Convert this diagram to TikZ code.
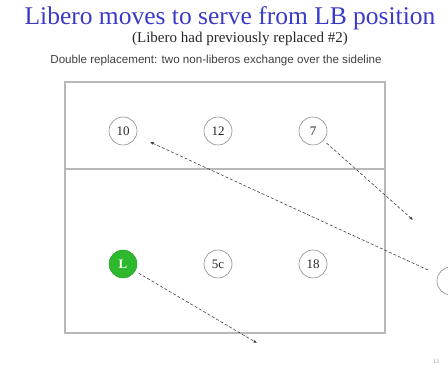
\documentclass[tikz,border=0pt]{standalone}
\usepackage{fontspec}
\setmainfont{Liberation Serif}
\newfontfamily\arialf{Liberation Sans}
\usetikzlibrary{arrows.meta}
\definecolor{titleblue}{HTML}{3A3AC8}
\definecolor{courtgray}{HTML}{B8B8B8}
\definecolor{ringgray}{HTML}{8C8C8C}
\definecolor{libgreen}{HTML}{2EB82E}
\begin{document}
\begin{tikzpicture}[x=1pt,y=-1pt,
  player/.style={circle,draw=ringgray,line width=0.6pt,minimum size=28pt,inner sep=0pt,font=\fontsize{13}{13}\selectfont,text=black!85},
  libero/.style={circle,fill=libgreen,draw=libgreen!80!black,line width=0.4pt,minimum size=28pt,inner sep=0pt,font=\fontsize{13}{13}\selectfont\bfseries,text=white},
  move/.style={densely dashed,line width=0.6pt,draw=black!75,-{Latex[length=3.5pt,width=3pt]}},
  court/.style={draw=courtgray,line width=1.1pt}]
\useasboundingbox (0,0) rectangle (448,371);
\clip (0,0) rectangle (448,371);
% titles
\node[text=titleblue,font=\fontsize{25.5}{25.5}\selectfont] (title) at (230,18) {Libero moves to serve from LB position};
\node[text=black!85,font=\fontsize{15}{15}\selectfont] (sub) at (240,39) {(Libero had previously replaced \#2)};
\node[text=black!75,font=\arialf\fontsize{11.6}{11.6}\selectfont] (expl) at (216,61) {Double replacement: two non-liberos exchange over the sideline};
% court
\draw[court] (65,82) rectangle (385,333);
\draw[court] (65,169) -- (385,169);
% players
\node[player] (p10) at (123,131) {10};
\node[player] (p12) at (218,131) {12};
\node[player] (p7) at (313,131) {7};
\node[libero] (pL) at (123,264) {L};
\node[player] (p5c) at (218,264) {5c};
\node[player] (p18) at (313,264) {18};
\node[player] (p2) at (451,281) {2};
% endpoints
\coordinate (t10) at (150,142);
\coordinate (t7) at (413,220);
\coordinate (tL) at (257,343);
\coordinate (s2) at (428,270);
% moves
\draw[move] (s2) -- (t10);
\draw[move,shorten <=4pt] (p7) -- (t7);
\draw[move,shorten <=4pt] (pL) -- (tL);
% page number
\node[text=black!45,font=\fontsize{5.5}{5.5}\selectfont] (pg) at (436,362) {13};
\end{tikzpicture}
\end{document}
